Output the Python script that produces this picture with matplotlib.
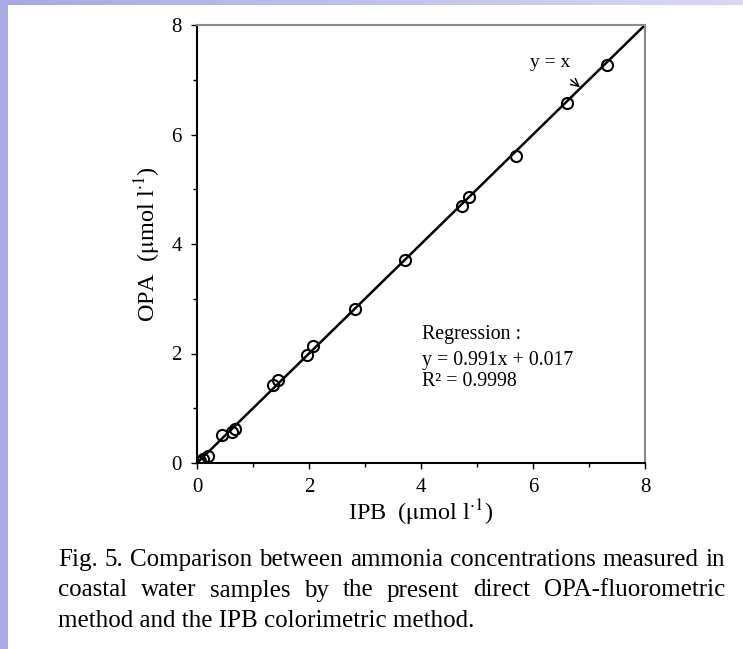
import numpy as np
import matplotlib
matplotlib.use('Agg')
import matplotlib.pyplot as plt
from matplotlib.ticker import MultipleLocator

#%% data
ipb = [0.02, 0.05, 0.10, 0.20, 0.45, 0.63, 0.68, 1.36, 1.45, 1.96, 2.07,
       2.82, 3.71, 4.73, 4.86, 5.70, 6.60, 7.33]
opa = [0.02, 0.04, 0.07, 0.12, 0.51, 0.57, 0.62, 1.42, 1.52, 1.97, 2.13,
       2.81, 3.71, 4.69, 4.85, 5.60, 6.58, 7.27]
line_x = [0, 8]
line_y = [0, 8]
ticks = [0, 2, 4, 6, 8]

caption = ['Fig. 5. Comparison between ammonia concentrations measured in',
           'coastal water samples by the present direct OPA-fluorometric',
           'method and the IPB colorimetric method.']

plt.rcParams['font.family'] = 'Liberation Serif'
plt.rcParams['mathtext.fontset'] = 'stix'

fig = plt.figure(figsize=(7.43, 6.49), dpi=100)
W, H = 743, 649

#%% purple frame (left bar + top gradient bar)
bg = fig.add_axes([0, 0, 1, 1], zorder=-5)
bg.set_xlim(0, W)
bg.set_ylim(H, 0)
bg.axis('off')
bg.add_patch(plt.Rectangle((0, 0), 8, H, color='#a9a9e6', lw=0))
grad = np.linspace(0, 1, 256)
c0 = np.array([0.66, 0.66, 0.90])
c1 = np.array([0.85, 0.85, 0.96])
img = c0[None, :] * (1 - grad[:, None]) + c1[None, :] * grad[:, None]
bg.imshow(img[None, :, :], extent=(0, W, 5, 0), aspect='auto')

#%% main plot
ax = fig.add_axes([197 / W, 1 - 463 / H, 448 / W, 438 / H])
ax.plot(line_x, line_y, color='black', lw=1.8, zorder=2)
ax.plot(ipb, opa, 'o', mfc='none', mec='black', mew=1.5, ms=8, zorder=3)

ax.set_xlim(0, 8)
ax.set_ylim(0, 8)
ax.set_xticks(ticks)
ax.set_yticks(ticks)
ax.xaxis.set_minor_locator(MultipleLocator(1))
ax.yaxis.set_minor_locator(MultipleLocator(1))
ax.tick_params(which='both', direction='out', length=4, width=1, labelsize=15,
               pad=7)
ax.tick_params(which='minor', length=3)

for s in ['left', 'bottom']:
    ax.spines[s].set_linewidth(1.5)
for s in ['top', 'right']:
    ax.spines[s].set_linewidth(1.5)
    ax.spines[s].set_color('#8a8a8a')

ax.set_xlabel(r'IPB  ($\mathrm{\mu}$mol l$^{\cdot 1}$)', fontsize=17.5, labelpad=0)
ax.set_ylabel(r'OPA  ($\mathrm{\mu}$mol l$^{\cdot 1}$)', fontsize=17.5, labelpad=6)

ax.annotate('y = x', xy=(6.84, 6.86), xytext=(6.3, 7.32), fontsize=14,
            ha='center', va='center',
            arrowprops=dict(arrowstyle='->', color='black', lw=1,
                            shrinkA=7, shrinkB=0))

ax.text(4.02, 2.34, 'Regression :', fontsize=14.3, va='center')
ax.text(4.02, 1.88, 'y = 0.991x + 0.017', fontsize=14.3, va='center')
ax.text(4.02, 1.49, 'R² = 0.9998', fontsize=14.3, va='center')

#%% caption (first two lines justified)
renderer = fig.canvas.get_renderer()
x_left, x_right = 58, 725
for i, line in enumerate(caption):
    y = 1 - (560 + 30.5 * i) / H
    if i == len(caption) - 1:
        fig.text(x_left / W, y, line, fontsize=18, va='center', ha='left')
        continue
    words = line.split()
    txts = [fig.text(0, y, w, fontsize=18, va='center', ha='left') for w in words]
    widths = [t.get_window_extent(renderer).width for t in txts]
    gap = (x_right - x_left - sum(widths)) / (len(words) - 1)
    xpos = x_left
    for t, wd in zip(txts, widths):
        t.set_x(xpos / W)
        xpos += wd + gap

fig.savefig('out.png', dpi=100)
